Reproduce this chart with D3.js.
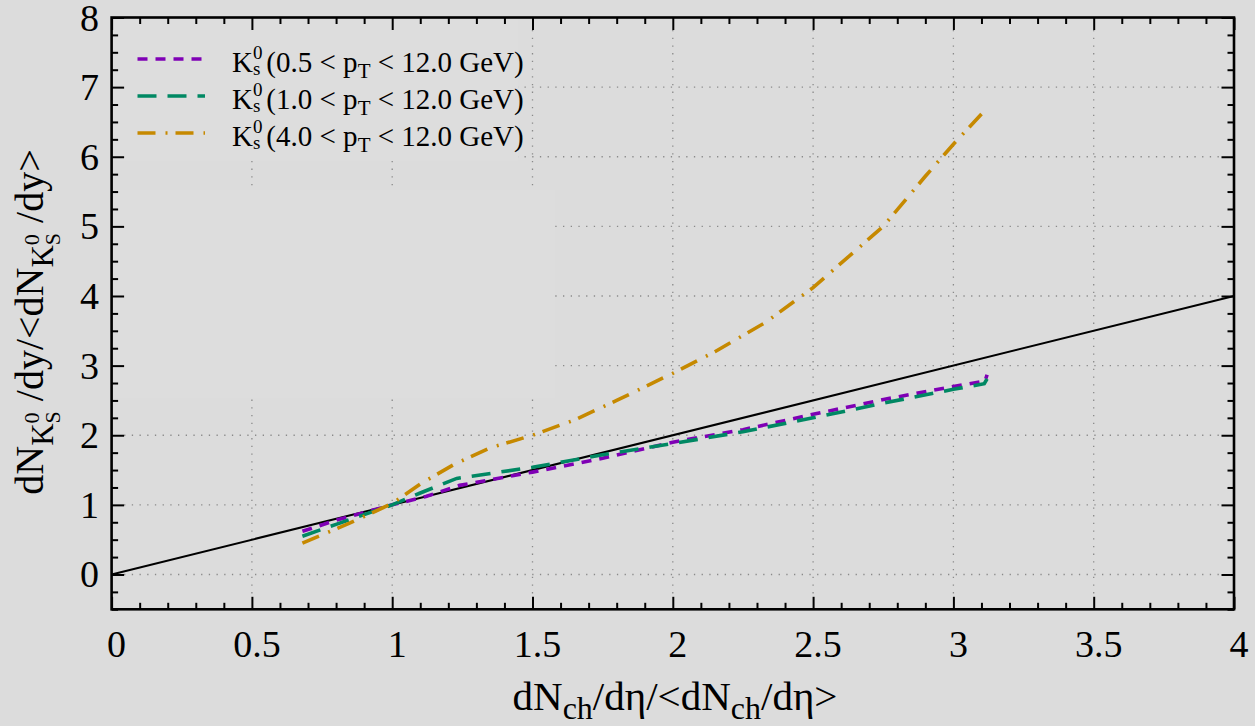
<!DOCTYPE html>
<html>
<head>
<meta charset="utf-8">
<script src="https://cdn.jsdelivr.net/npm/d3@7"></script>
<style>
  html, body { margin: 0; padding: 0; background: #dcdcdc; }
  svg { display: block; }
</style>
</head>
<body>
<svg id="chart" width="1255" height="726" font-family="'Liberation Serif', 'Times New Roman', Times, 'DejaVu Serif', serif"></svg>
<script>
// ---- axis ticks ----
const xTicks = [0, 0.5, 1, 1.5, 2, 2.5, 3, 3.5, 4];
const xTickLabels = ["0", "0.5", "1", "1.5", "2", "2.5", "3", "3.5", "4"];
const yTicks = [0, 1, 2, 3, 4, 5, 6, 7, 8];
const yTickLabels = ["0", "1", "2", "3", "4", "5", "6", "7", "8"];

// ---- K0s yield ratio vs. charged multiplicity ratio ----
// 0.5 < pT < 12.0 GeV
const lowPtX = [0.68, 0.8, 0.9, 1.0, 1.12, 1.24, 1.5, 1.75, 2.0, 2.25, 2.5, 2.76, 3.0, 3.113, 3.12];
const lowPtY = [0.62, 0.78, 0.89, 1.0, 1.12, 1.28, 1.47, 1.67, 1.9, 2.08, 2.3, 2.52, 2.7, 2.78, 2.87];
// 1.0 < pT < 12.0 GeV
const midPtX = [0.68, 0.8, 0.9, 1.0, 1.1, 1.23, 1.5, 1.75, 2.0, 2.25, 2.5, 2.75, 3.0, 3.11, 3.12];
const midPtY = [0.55, 0.72, 0.86, 1.0, 1.17, 1.38, 1.54, 1.72, 1.88, 2.05, 2.25, 2.46, 2.66, 2.74, 2.81];
// 4.0 < pT < 12.0 GeV
const highPtX = [0.68, 0.85, 1.0, 1.1, 1.22, 1.35, 1.5, 1.65, 1.8, 2.0, 2.15, 2.33, 2.5, 2.75, 2.9, 3.0, 3.12];
const highPtY = [0.45, 0.74, 1.02, 1.3, 1.58, 1.82, 2.0, 2.22, 2.5, 2.89, 3.2, 3.62, 4.12, 5.0, 5.72, 6.18, 6.7];

// reference line y = x
const refX = [0, 4];
const refY = [0, 4];

// legend entries
const ptLow = ["0.5", "1.0", "4.0"];
const ptHigh = "12.0";
const seriesColors = ["#7f00b5", "#008863", "#c68900"];
const seriesDash = ["10,8", "19,11", "18,10,2,8"];

// ---- layout ----
const svg = d3.select("#chart");
const W = 1255, H = 726;
const plotL = 111.6, plotR = 1234, plotT = 17.5, plotB = 609.3;

svg.append("rect").attr("width", W).attr("height", H).attr("fill", "#dcdcdc");

const x = d3.scaleLinear().domain([0, 4]).range([plotL, plotR]);
const y = d3.scaleLinear().domain([-0.5, 8]).range([plotB, plotT]);

const majorLen = 12.5, minorLen = 6.5;

// ---- dotted grid ----
const grid = svg.append("g")
  .attr("stroke", "#8a8a8a").attr("stroke-width", 1.3)
  .attr("stroke-dasharray", "1.3,6.4").attr("fill", "none");
xTicks.filter(v => v > 0 && v < 4).forEach(v => {
  grid.append("line")
    .attr("x1", x(v)).attr("x2", x(v))
    .attr("y1", y(8) + majorLen).attr("y2", y(-0.5) - majorLen);
});
yTicks.filter(v => v < 8).forEach(v => {
  grid.append("line")
    .attr("y1", y(v)).attr("y2", y(v))
    .attr("x1", x(0) + majorLen).attr("x2", x(4) - majorLen);
});

// opaque key panels over the grid
svg.append("rect").attr("x", x(0)).attr("y", y(8))
  .attr("width", 518 - x(0)).attr("height", 161 - y(8)).attr("fill", "#dddddd");
svg.append("rect").attr("x", x(0)).attr("y", 190)
  .attr("width", 555 - x(0)).attr("height", 398 - 190).attr("fill", "#dddddd");

// ---- curves ----
const line = d3.line().x(d => x(d[0])).y(d => y(d[1]));
const zip = (a, b) => a.map((v, i) => [v, b[i]]);

svg.append("path")
  .datum(zip(refX, refY))
  .attr("d", line)
  .attr("fill", "none").attr("stroke", "#000").attr("stroke-width", 2);

const series = [zip(lowPtX, lowPtY), zip(midPtX, midPtY), zip(highPtX, highPtY)];
series.forEach((pts, i) => {
  svg.append("path")
    .datum(pts)
    .attr("d", line)
    .attr("fill", "none")
    .attr("stroke", seriesColors[i])
    .attr("stroke-width", 3.6)
    .attr("stroke-dasharray", seriesDash[i]);
});

// ---- frame and ticks (inward, mirrored) ----
const minorX = d3.range(0, 41).map(i => i / 10).filter(v => Math.abs(v * 2 - Math.round(v * 2)) > 1e-6);
const minorY = d3.range(-2, 33).map(i => i / 4).filter(v => Math.abs(v - Math.round(v)) > 1e-6);

function tickAxis(axisFn, scale, values, len, transform) {
  const g = svg.append("g").attr("transform", transform)
    .call(axisFn(scale).tickValues(values).tickSize(-len).tickFormat(""));
  g.attr("font-family", null).attr("font-size", null);
  g.select(".domain").remove();
  g.selectAll(".tick line").attr("stroke", "#000").attr("stroke-width", 2);
  g.selectAll(".tick text").remove();
}
tickAxis(d3.axisBottom, x, xTicks, majorLen, `translate(0,${plotB})`);
tickAxis(d3.axisBottom, x, minorX, minorLen, `translate(0,${plotB})`);
tickAxis(d3.axisTop, x, xTicks, majorLen, `translate(0,${plotT})`);
tickAxis(d3.axisTop, x, minorX, minorLen, `translate(0,${plotT})`);
tickAxis(d3.axisLeft, y, yTicks, majorLen, `translate(${plotL},0)`);
tickAxis(d3.axisLeft, y, minorY, minorLen, `translate(${plotL},0)`);
tickAxis(d3.axisRight, y, yTicks, majorLen, `translate(${plotR},0)`);
tickAxis(d3.axisRight, y, minorY, minorLen, `translate(${plotR},0)`);

svg.append("rect")
  .attr("x", plotL).attr("y", plotT)
  .attr("width", plotR - plotL).attr("height", plotB - plotT)
  .attr("fill", "none").attr("stroke", "#000").attr("stroke-width", 2.6);

// ---- tick labels ----
svg.append("g").selectAll("text").data(xTicks).join("text")
  .attr("x", d => x(d) + 5).attr("y", 657)
  .attr("text-anchor", "middle").attr("font-size", 38)
  .text((d, i) => xTickLabels[i]);
svg.append("g").selectAll("text").data(yTicks).join("text")
  .attr("x", 99).attr("y", d => y(d) + 13)
  .attr("text-anchor", "end").attr("font-size", 38)
  .text((d, i) => yTickLabels[i]);

// ---- rich text helper ----
function rich(textSel, parts) {
  parts.forEach(p => {
    const t = textSel.append("tspan").text(p.t).attr("font-size", p.s);
    if (p.dx) t.attr("dx", p.dx);
    if (p.dy) t.attr("dy", p.dy);
  });
}

// x-axis title
rich(svg.append("text").attr("x", 675).attr("y", 710).attr("text-anchor", "middle"), [
  { t: "dN", s: 41 },
  { t: "ch", s: 32, dy: 9 },
  { t: "/dη/<dN", s: 41, dy: -9 },
  { t: "ch", s: 32, dy: 9 },
  { t: "/dη>", s: 41, dy: -9 }
]);

// y-axis title
const kSub = [
  { t: "K", s: 31, dy: 10 },
  { t: "0", s: 22, dy: -14 },
  { t: "S", s: 22, dx: -11, dy: 21 }
];
rich(svg.append("text").attr("transform", "translate(43,322) rotate(-90)").attr("text-anchor", "middle"), [
  { t: "dN", s: 40 },
  ...kSub,
  { t: " /dy/<dN", s: 40, dy: -17 },
  ...kSub,
  { t: " /dy>", s: 40, dy: -17 }
]);

// ---- legend ----
const legendBase = [72, 109, 146];
ptLow.forEach((lo, i) => {
  const by = legendBase[i];
  svg.append("line")
    .attr("x1", 137.5).attr("x2", 205)
    .attr("y1", by - 13).attr("y2", by - 13)
    .attr("stroke", seriesColors[i]).attr("stroke-width", 3.6)
    .attr("stroke-dasharray", seriesDash[i]);
  rich(svg.append("text").attr("x", 232).attr("y", by), [
    { t: "K", s: 29 },
    { t: "0", s: 19, dy: -13 },
    { t: "s", s: 19, dx: -9.5, dy: 16 },
    { t: `(${lo} < p`, s: 29, dx: 6, dy: -3 },
    { t: "T", s: 21, dy: 6 },
    { t: ` < ${ptHigh} GeV)`, s: 29, dy: -6 }
  ]);
});
</script>
</body>
</html>
